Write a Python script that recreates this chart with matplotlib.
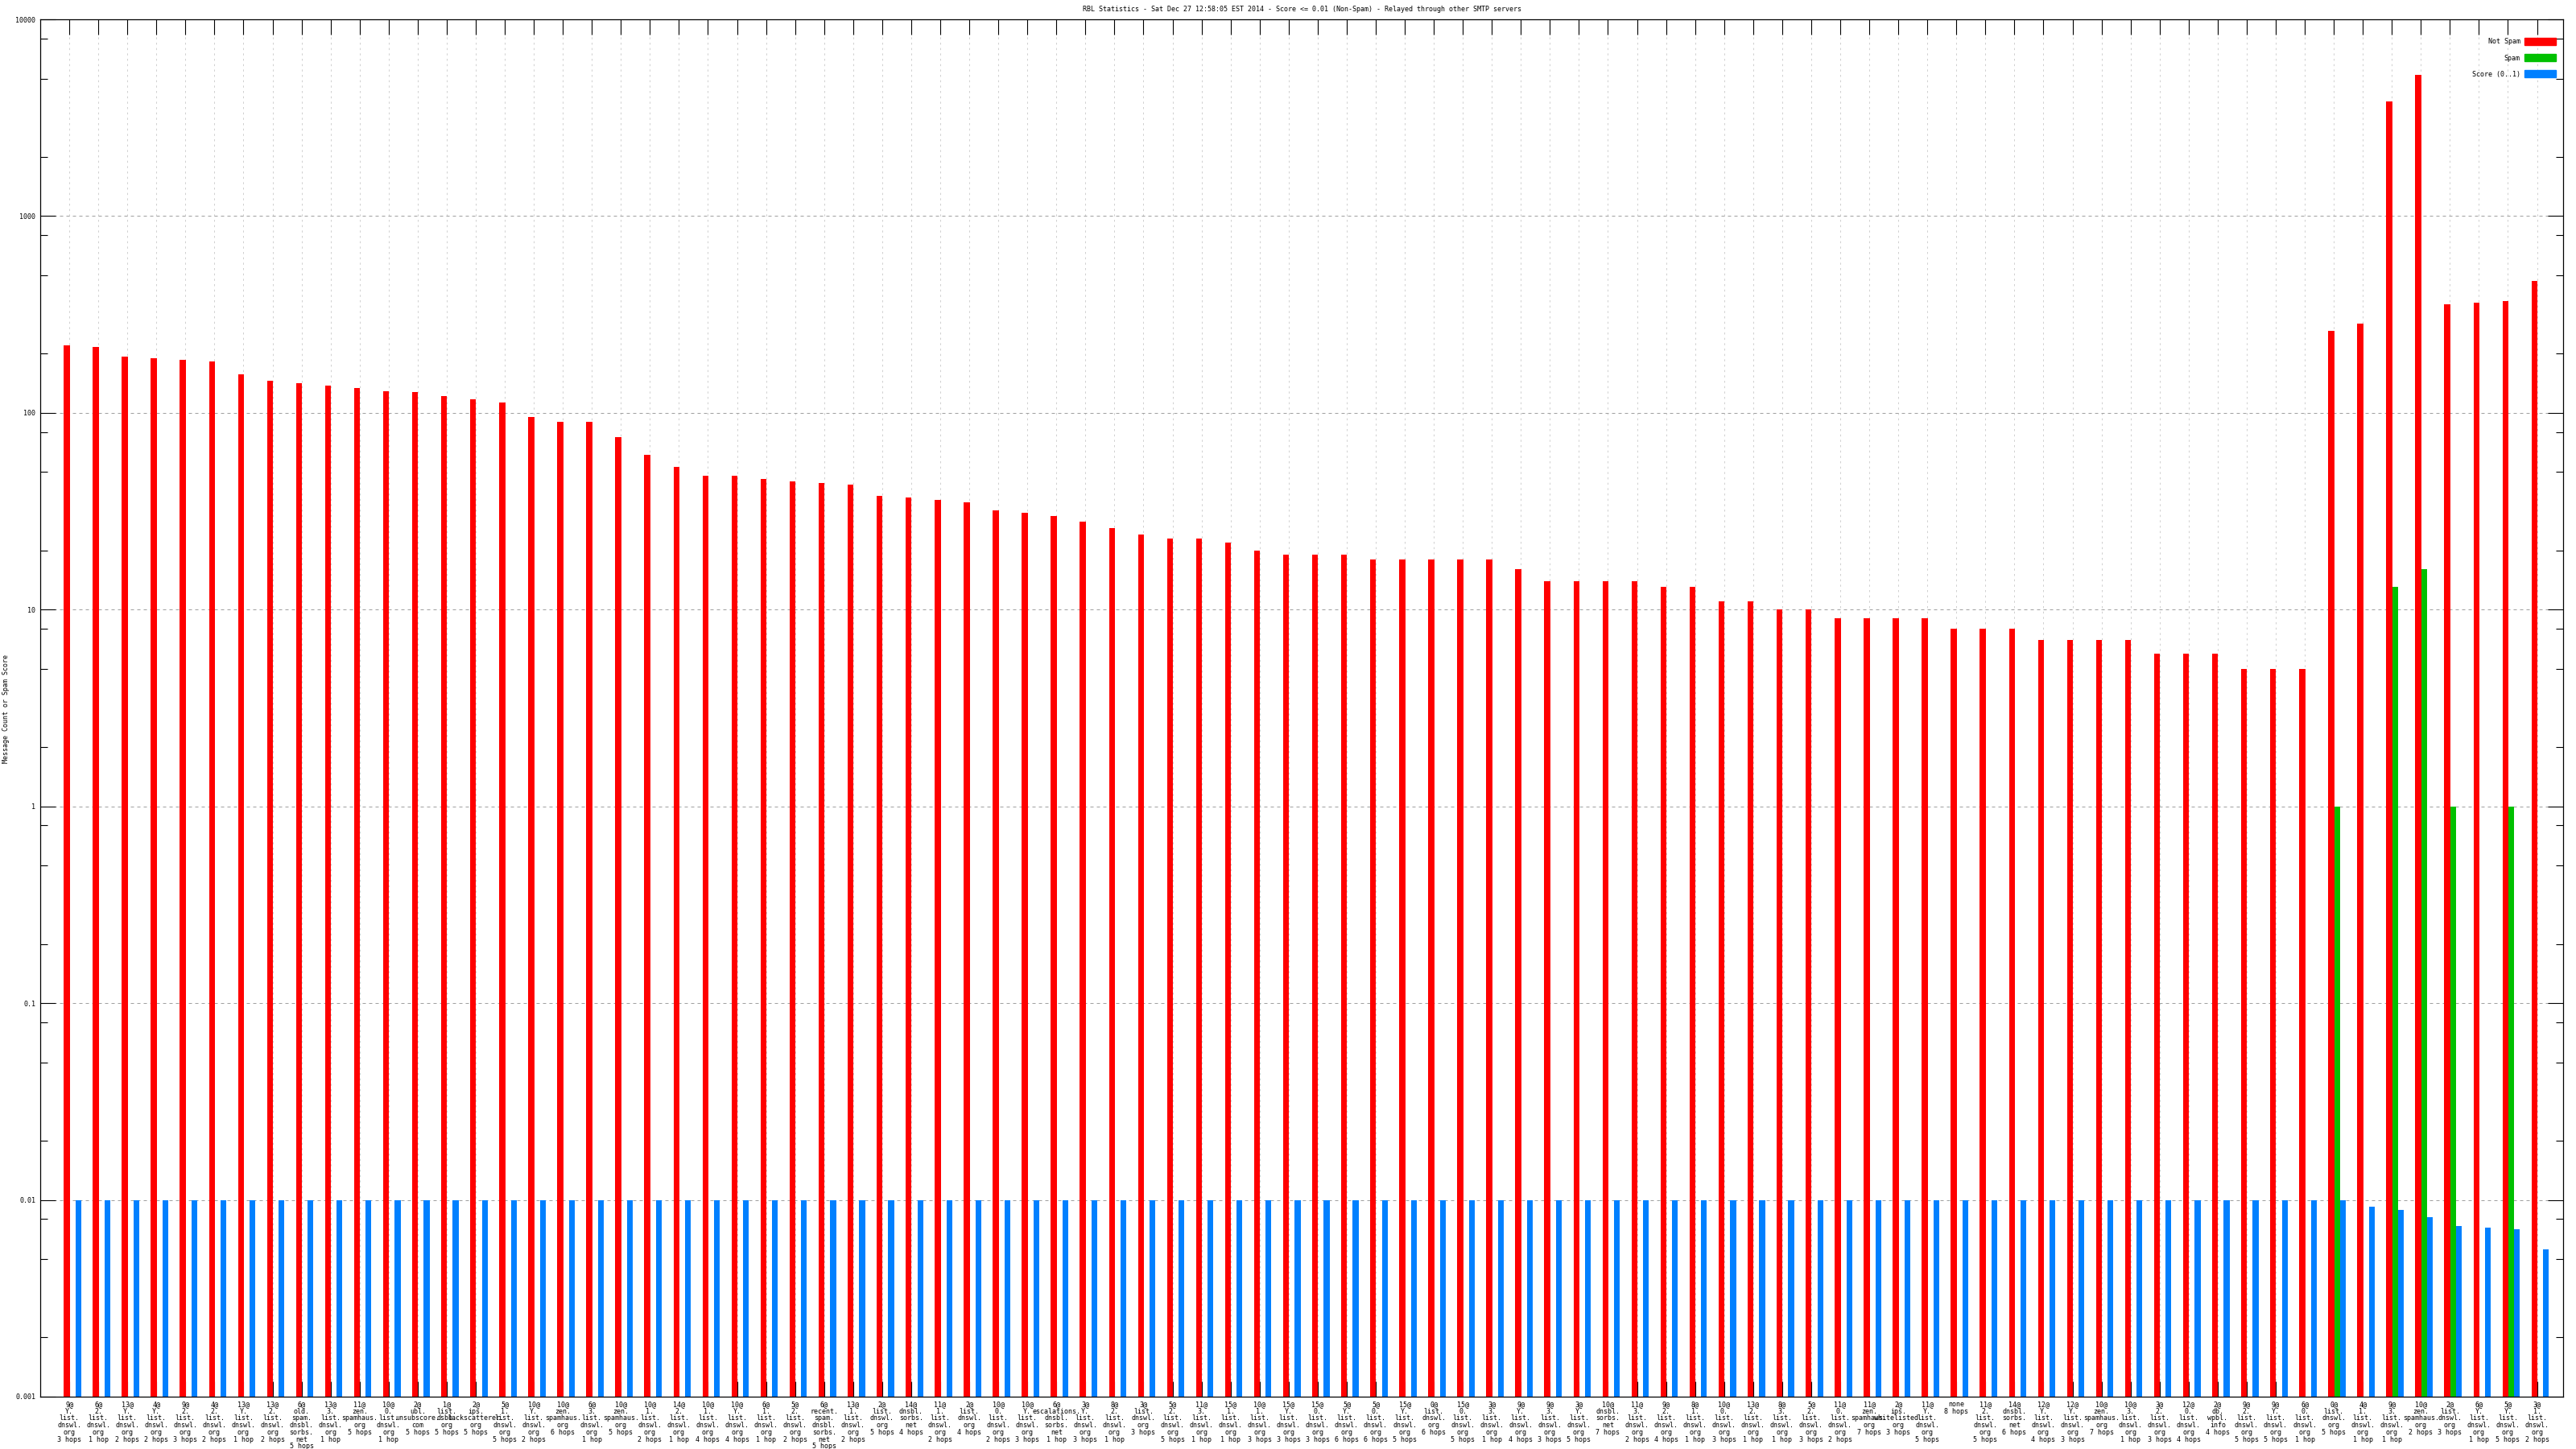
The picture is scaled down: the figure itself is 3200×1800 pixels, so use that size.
import numpy as np
import matplotlib
matplotlib.use('Agg')
import matplotlib.pyplot as plt
from matplotlib.patches import Patch
from matplotlib.ticker import FixedLocator, NullFormatter

relays = [
    "9@Y.list.dnswl.org 3 hops", "6@2.list.dnswl.org 1 hop", "13@Y.list.dnswl.org 2 hops",
    "4@Y.list.dnswl.org 2 hops", "9@2.list.dnswl.org 3 hops", "4@2.list.dnswl.org 2 hops",
    "13@Y.list.dnswl.org 1 hop", "13@2.list.dnswl.org 2 hops", "6@old.spam.dnsbl.sorbs.net 5 hops",
    "13@3.list.dnswl.org 1 hop", "11@zen.spamhaus.org 5 hops", "10@0.list.dnswl.org 1 hop",
    "2@ubl.unsubscore.com 5 hops", "1@list.dsbl.org 5 hops", "2@ips.backscatterer.org 5 hops",
    "5@1.list.dnswl.org 5 hops", "10@Y.list.dnswl.org 2 hops", "10@zen.spamhaus.org 6 hops",
    "6@3.list.dnswl.org 1 hop", "10@zen.spamhaus.org 5 hops", "10@1.list.dnswl.org 2 hops",
    "14@2.list.dnswl.org 1 hop", "10@1.list.dnswl.org 4 hops", "10@Y.list.dnswl.org 4 hops",
    "6@1.list.dnswl.org 1 hop", "5@2.list.dnswl.org 2 hops", "6@recent.spam.dnsbl.sorbs.net 5 hops",
    "13@1.list.dnswl.org 2 hops", "2@list.dnswl.org 5 hops", "14@dnsbl.sorbs.net 4 hops",
    "11@1.list.dnswl.org 2 hops", "2@list.dnswl.org 4 hops", "10@0.list.dnswl.org 2 hops",
    "10@Y.list.dnswl.org 3 hops", "6@escalations.dnsbl.sorbs.net 1 hop", "3@Y.list.dnswl.org 3 hops",
    "8@2.list.dnswl.org 1 hop", "3@list.dnswl.org 3 hops", "5@2.list.dnswl.org 5 hops",
    "11@3.list.dnswl.org 1 hop", "15@1.list.dnswl.org 1 hop", "10@1.list.dnswl.org 3 hops",
    "15@Y.list.dnswl.org 3 hops", "15@0.list.dnswl.org 3 hops", "5@Y.list.dnswl.org 6 hops",
    "5@0.list.dnswl.org 6 hops", "15@Y.list.dnswl.org 5 hops", "0@list.dnswl.org 6 hops",
    "15@0.list.dnswl.org 5 hops", "3@3.list.dnswl.org 1 hop", "9@Y.list.dnswl.org 4 hops",
    "9@3.list.dnswl.org 3 hops", "3@Y.list.dnswl.org 5 hops", "10@dnsbl.sorbs.net 7 hops",
    "11@3.list.dnswl.org 2 hops", "9@2.list.dnswl.org 4 hops", "8@1.list.dnswl.org 1 hop",
    "10@0.list.dnswl.org 3 hops", "13@2.list.dnswl.org 1 hop", "8@3.list.dnswl.org 1 hop",
    "5@2.list.dnswl.org 3 hops", "11@0.list.dnswl.org 2 hops", "11@zen.spamhaus.org 7 hops",
    "2@ips.whitelisted.org 3 hops", "11@Y.list.dnswl.org 5 hops", "none 8 hops",
    "11@2.list.dnswl.org 5 hops", "14@dnsbl.sorbs.net 6 hops", "12@Y.list.dnswl.org 4 hops",
    "12@Y.list.dnswl.org 3 hops", "10@zen.spamhaus.org 7 hops", "10@3.list.dnswl.org 1 hop",
    "3@2.list.dnswl.org 3 hops", "12@0.list.dnswl.org 4 hops", "2@db.wpbl.info 4 hops",
    "9@2.list.dnswl.org 5 hops", "9@Y.list.dnswl.org 5 hops", "6@0.list.dnswl.org 1 hop",
    "0@list.dnswl.org 5 hops", "4@1.list.dnswl.org 1 hop", "9@3.list.dnswl.org 1 hop",
    "10@zen.spamhaus.org 2 hops", "2@list.dnswl.org 3 hops", "6@Y.list.dnswl.org 1 hop",
    "5@Y.list.dnswl.org 5 hops", "3@1.list.dnswl.org 2 hops",
]

not_spam = [221, 217, 193, 190, 186, 183, 157, 145, 142, 137, 134, 129, 127, 122, 117, 113,
            95, 90, 90, 75, 61, 53, 48, 48, 46, 45, 44, 43, 38, 37, 36, 35, 32, 31, 30, 28,
            26, 24, 23, 23, 22, 20, 19, 19, 19, 18, 18, 18, 18, 18, 16, 14, 14, 14, 14, 13,
            13, 11, 11, 10, 10, 9, 9, 9, 9, 8, 8, 8, 7, 7, 7, 7, 6, 6, 6, 5, 5, 5,
            262, 284, 3820, 5200, 357, 364, 371, 468]

spam = [0] * 78 + [1, 0, 13, 16, 1, 0, 1, 0]

score = [0.01] * 79 + [0.0092, 0.0089, 0.0082, 0.0074, 0.0072, 0.0071, 0.0056]

title = ("RBL Statistics - Sat Dec 27 12:58:05 EST 2014 - Score <= 0.01 (Non-Spam) - "
         "Relayed through other SMTP servers")


def tick_text(relay):
    name, hops = relay.split(' ', 1)
    if '@' in name:
        count, host = name.split('@')
        parts = host.split('.')
        lines = [count + '@'] + [p + '.' for p in parts[:-1]] + [parts[-1]]
    else:
        lines = [name]
    return '\n'.join(lines + [hops])


plt.rcParams['font.family'] = 'DejaVu Sans Mono'
FS = 6

W, H = 3200, 1800
fig = plt.figure(figsize=(32, 18), dpi=100)
ax = fig.add_axes([50 / W, 65 / H, 3134 / W, 1711 / H])

x = np.arange(len(relays))
spam = np.array(spam)
has_spam = spam > 0

ax.bar(x - 0.088, not_spam, width=0.205, color='#ff0000', linewidth=0, log=True)
ax.bar(x[has_spam] + 0.112, spam[has_spam], width=0.2, color='#00c000', linewidth=0, log=True)
ax.bar(x + 0.31, score, width=0.2, color='#0080ff', linewidth=0, log=True)

ax.set_xlim(-1, 85.9)
ax.set_ylim(0.001, 10000)

yt = [0.001, 0.01, 0.1, 1, 10, 100, 1000, 10000]
ax.yaxis.set_major_locator(FixedLocator(yt))
ax.set_yticklabels(['0.001', '0.01', '0.1', '1', '10', '100', '1000', '10000'])
minor = [m * 10.0 ** e for e in range(-3, 4) for m in (2, 5, 8)]
ax.yaxis.set_minor_locator(FixedLocator(minor))
ax.yaxis.set_minor_formatter(NullFormatter())

ax.set_xticks(x)
ax.set_xticklabels([tick_text(r) for r in relays])
for t in ax.get_xticklabels():
    t.set_linespacing(0.96)

ax.tick_params(axis='both', which='major', direction='in', length=13.7, width=0.8,
               labelsize=FS, top=True, right=True)
ax.tick_params(axis='y', which='minor', direction='in', length=6.5, width=0.8, right=True)
ax.tick_params(axis='x', which='major', pad=3.6)
ax.tick_params(axis='y', which='major', pad=4.3)
ax.xaxis.set_minor_locator(FixedLocator([]))

ax.set_axisbelow(True)
ax.grid(True, axis='y', which='major', color='#a0a0a0', linestyle=(0, (4, 4)), linewidth=0.72)
ax.grid(True, axis='x', which='major', color='#c8c8c8', linestyle=(0, (3, 5)), linewidth=0.6)
for s in ax.spines.values():
    s.set_linewidth(0.9)

fig.text(8 / W, 1 - 880 / H, 'Message Count or Spam Score', rotation=90, fontsize=FS,
         ha='center', va='center')
fig.text(1617 / W, 1 - 12 / H, title, fontsize=FS, ha='center', va='center')

ax.legend(handles=[Patch(color='#ff0000', label='Not Spam'),
                   Patch(color='#00c000', label='Spam'),
                   Patch(color='#0080ff', label='Score (0..1)')],
          loc='upper right', bbox_to_anchor=((3175 - 50) / 3134, 1 - (47 - 24) / 1711),
          frameon=False, fontsize=FS, markerfirst=False, borderpad=0, borderaxespad=0,
          handlelength=4.7, handleheight=1.3, handletextpad=0.6, labelspacing=1.3)

fig.savefig('out.png', dpi=100)
plt.close(fig)
